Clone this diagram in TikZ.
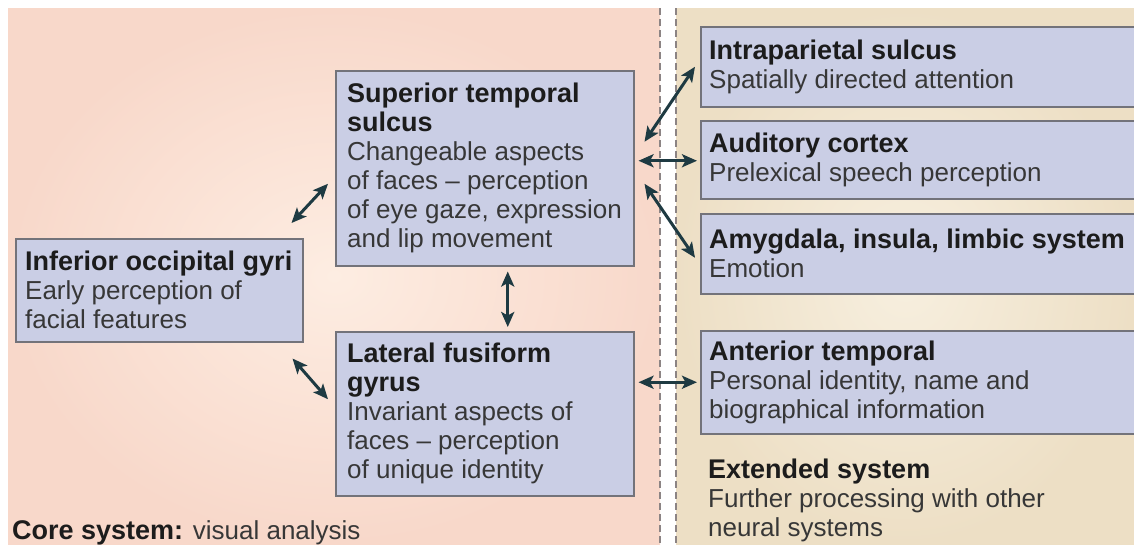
\documentclass[tikz,border=0pt]{standalone}
\usepackage{fontspec}
\setmainfont{Liberation Sans}
\usepackage{xcolor}
\usetikzlibrary{arrows.meta}
\definecolor{corepink}{RGB}{248,216,202}
\definecolor{corepinklight}{RGB}{253,237,226}
\definecolor{extbeige}{RGB}{237,223,197}
\definecolor{extbeigelight}{RGB}{247,239,223}
\definecolor{boxblue}{RGB}{202,206,229}
\definecolor{boxbluelight}{RGB}{229,230,240}
\definecolor{boxline}{RGB}{115,115,122}
\definecolor{arrowteal}{RGB}{30,58,66}
\definecolor{dashgray}{RGB}{140,132,132}
\definecolor{titletext}{RGB}{28,28,28}
\definecolor{bodytext}{RGB}{55,55,55}
\newcommand{\hd}[1]{{\fontsize{27}{29}\selectfont\bfseries\color{titletext}#1}}

\begin{document}
\begin{tikzpicture}[x=1pt, y=-1pt,
  box/.style={draw=boxline, line width=1.5pt, anchor=north west, inner sep=0pt,
    left color=boxblue, middle color=boxbluelight, right color=boxblue},
  txt/.style={anchor=west, align=left, inner sep=0pt, text=bodytext,
    font=\fontsize{26}{29}\selectfont},
  conn/.style={{Stealth[length=15pt,width=13pt,inset=3.5pt]}-{Stealth[length=15pt,width=13pt,inset=3.5pt]},
    line width=3pt, draw=arrowteal},
  sep/.style={draw=dashgray, line width=2pt, dash pattern=on 7pt off 4pt}]

\useasboundingbox (0,0) rectangle (1134,544);
\fill[white] (0,0) rectangle (1134,544);

% the two panels
\shade[inner color=corepinklight, outer color=corepink] (8,8) rectangle (660,544);
\shade[inner color=extbeigelight, outer color=extbeige] (676,8) rectangle (1134,544);
\draw[sep] (660,8) -- (660,544);
\draw[sep] (676,8) -- (676,544);

% core system
\node[box, minimum width=287pt, minimum height=103pt] (iog) at (15,238) {};
\node[box, minimum width=298pt, minimum height=195pt] (sts) at (335,70) {};
\node[box, minimum width=298pt, minimum height=164pt] (lfg) at (335,331) {};

\node[txt] (iog-t) at ([xshift=10pt]iog.west) {\hd{Inferior occipital gyri}\\Early perception of\\facial features};
\node[txt] (sts-t) at ([xshift=12pt]sts.west) {\hd{Superior temporal}\\\hd{sulcus}\\Changeable aspects\\of faces -- perception\\of eye gaze, expression\\and lip movement};
\node[txt] (lfg-t) at ([xshift=12pt]lfg.west) {\hd{Lateral fusiform}\\\hd{gyrus}\\Invariant aspects of\\faces -- perception\\of unique identity};
\node[txt, anchor=base west] (core-t) at (12,539) {\hd{Core system:} visual analysis};

% extended system
\node[box, minimum width=440pt, minimum height=80pt] (ips) at (700,26) {};
\node[box, minimum width=440pt, minimum height=78pt] (aud) at (700,120) {};
\node[box, minimum width=440pt, minimum height=80pt] (amy) at (700,213) {};
\node[box, minimum width=440pt, minimum height=103pt] (ant) at (700,330) {};

\node[txt] (ips-t) at ([xshift=9pt]ips.west) {\hd{Intraparietal sulcus}\\Spatially directed attention};
\node[txt] (aud-t) at ([xshift=9pt]aud.west) {\hd{Auditory cortex}\\Prelexical speech perception};
\node[txt] (amy-t) at ([xshift=9pt]amy.west) {\hd{Amygdala, insula, limbic system}\\Emotion};
\node[txt] (ant-t) at ([xshift=9pt]ant.west) {\hd{Anterior temporal}\\Personal identity, name and\\biographical information};
\node[txt, anchor=north west] (ext-t) at (708,459) {\hd{Extended system}\\Further processing with other\\neural systems};

% links
\draw[conn] ([xshift=-12pt,yshift=15pt]iog.north east) -- ([xshift=-7pt,yshift=-15.5pt]sts.west);
\draw[conn] ([xshift=-11pt,yshift=-16pt]iog.south east) -- ([xshift=-7pt,yshift=14.5pt]lfg.west);
\draw[conn] ([xshift=23pt,yshift=-5pt]sts.south) -- ([xshift=23pt,yshift=4pt]lfg.north);
\draw[conn] ([xshift=10pt,yshift=26.5pt]sts.east) -- ([xshift=-5pt]ips.west);
\draw[conn] ([xshift=4pt,yshift=7.5pt]sts.east) -- ([xshift=-3pt,yshift=-1pt]aud.west);
\draw[conn] ([xshift=10pt,yshift=-15.5pt]sts.east) -- ([xshift=-5pt,yshift=-4pt]amy.west);
\draw[conn] ([xshift=4pt,yshift=31.5pt]lfg.east) -- ([xshift=-3pt]ant.west);

\end{tikzpicture}
\end{document}
